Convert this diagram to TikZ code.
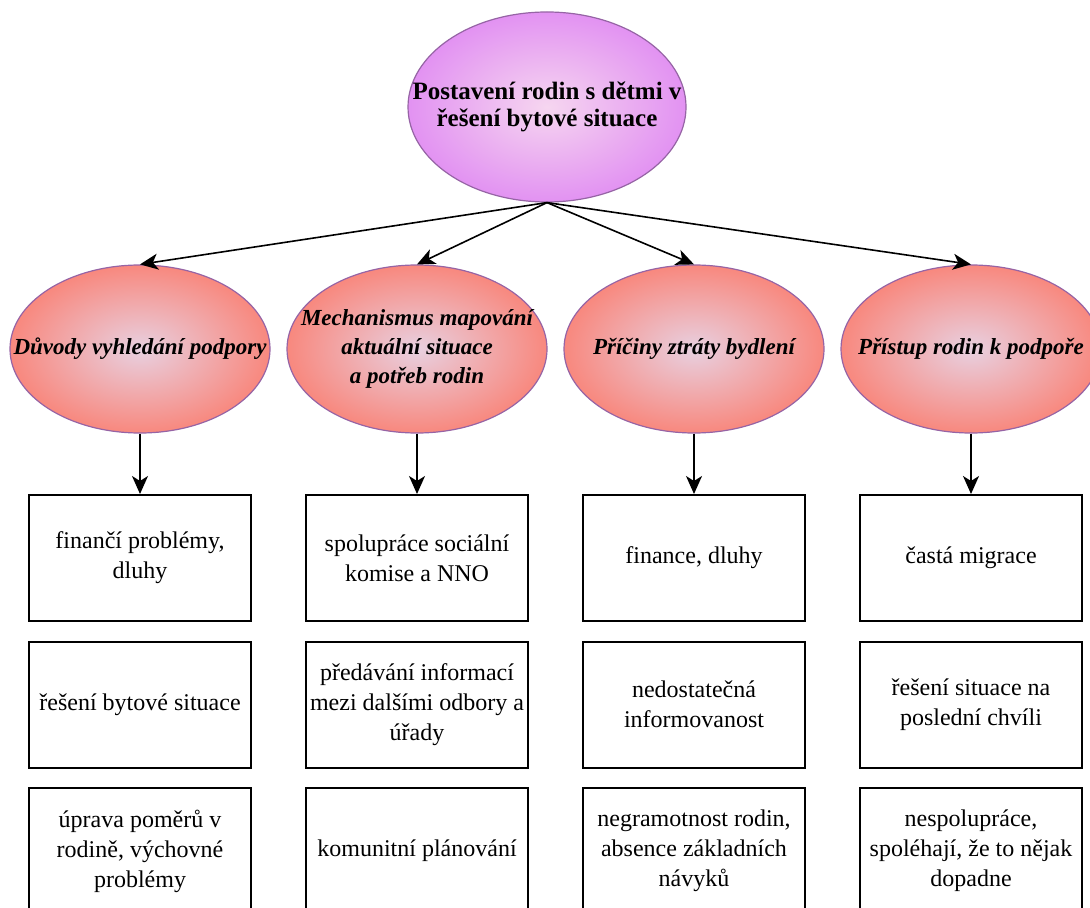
\documentclass[tikz,border=0pt]{standalone}
\usepackage{fontspec}
\setmainfont{Liberation Serif}
\usetikzlibrary{shapes.geometric}
\usetikzlibrary{arrows.meta}
\definecolor{topviolet}{RGB}{226,146,242}
\definecolor{topcentre}{RGB}{246,214,240}
\definecolor{salmon}{RGB}{248,136,126}
\definecolor{salmoncentre}{RGB}{232,208,224}
\definecolor{rimpurple}{RGB}{150,100,165}

\begin{document}
\begin{tikzpicture}[x=0.5pt,y=-0.5pt,
  topic/.style={ellipse, draw=rimpurple, line width=0.6pt, inner color=topcentre, outer color=topviolet, minimum width=139pt, minimum height=95pt, inner xsep=-24pt, inner ysep=0pt, align=center, font=\fontsize{12.5}{13.5}\selectfont\bfseries},
  theme/.style={ellipse, draw=rimpurple, line width=0.6pt, inner color=salmoncentre, outer color=salmon, minimum width=130pt, minimum height=84pt, inner xsep=-24pt, inner ysep=0pt, align=center, font=\fontsize{11.5}{14.5}\selectfont\bfseries\itshape},
  item/.style={draw, line width=1pt, minimum width=111pt, minimum height=63pt, inner sep=1pt, align=center, font=\fontsize{12}{15}\selectfont},
  link/.style={-{Stealth[length=9pt,width=8pt,inset=2.5pt]}, line width=0.8pt}]
\useasboundingbox (0,0) rectangle (1090,908);
\coordinate (T) at (547,107);
\coordinate (A) at (140,349);
\coordinate (B) at (417,349);
\coordinate (C) at (694,349);
\coordinate (D) at (971,349);
\node[topic] (top) at (T) {Postavení rodin s dětmi v\\řešení bytové situace};
\node[theme] (duvody) at (A) {Důvody vyhledání podpory};
\node[theme] (mapovani) at (B) {Mechanismus mapování\\aktuální situace\\a potřeb rodin};
\node[theme] (priciny) at (C) {Příčiny ztráty bydlení};
\node[theme] (pristup) at (D) {Přístup rodin k podpoře};
% first column
\node[item] (d1) at (140,558) {finančí problémy,\\dluhy};
\node[item] (d2) at (140,704.5) {řešení bytové situace};
\node[item] (d3) at (140,851) {úprava poměrů v\\rodině, výchovné\\problémy};
% second column
\node[item] (m1) at (417,558) {spolupráce sociální\\komise a NNO};
\node[item] (m2) at (417,704.5) {předávání informací\\mezi dalšími odbory a\\úřady};
\node[item] (m3) at (417,851) {komunitní plánování};
% third column
\node[item] (p1) at (694,558) {finance, dluhy};
\node[item] (p2) at (694,704.5) {nedostatečná\\informovanost};
\node[item] (p3) at (694,851) {negramotnost rodin,\\absence základních\\návyků};
% fourth column
\node[item] (r1) at (971,558) {častá migrace};
\node[item] (r2) at (971,704.5) {řešení situace na\\poslední chvíli};
\node[item] (r3) at (971,851) {nespolupráce,\\spoléhají, že to nějak\\dopadne};
\draw[link] (top.south) -- (duvody.north);
\draw[link] (top.south) -- (mapovani.north);
\draw[link] (top.south) -- (priciny.north);
\draw[link] (top.south) -- (pristup.north);
\draw[link] (duvody) -- (d1);
\draw[link] (mapovani) -- (m1);
\draw[link] (priciny) -- (p1);
\draw[link] (pristup) -- (r1);
\end{tikzpicture}
\end{document}
